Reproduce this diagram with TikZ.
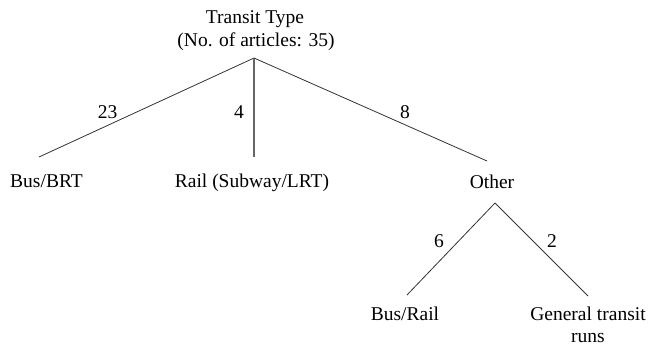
\documentclass[tikz,border=0pt]{standalone}
\usepackage{fontspec}
\setmainfont{Liberation Serif}
\begin{document}
\begin{tikzpicture}[x=1pt,y=-1pt,
  lbl/.style={inner sep=0pt,anchor=base,font=\fontsize{19.5}{26}\selectfont},
  num/.style={inner sep=0pt,anchor=base,font=\fontsize{19.5}{26}\selectfont},
  edge/.style={draw=black!80,line width=0.8pt},
  vedge/.style={draw=black!60,line width=1.1pt}]
\useasboundingbox (0,0) rectangle (650,349);

% root
\node[lbl] (title) at (255,23) {Transit Type};
\node[lbl] (count) at (256,46) {(No. of articles: 35)};
\coordinate (rootb) at (254,58);

% first level
\coordinate (busT) at (39,157);
\coordinate (railT) at (254,157);
\coordinate (otherT) at (487,161);
\node[lbl] (bus) at (46.5,187) {Bus/BRT};
\node[lbl] (rail) at (252,187) {Rail (Subway/LRT)};
\node[lbl] (other) at (492,188) {Other};

\draw[edge] (rootb) -- (busT);
\draw[vedge] (rootb) -- (railT);
\draw[edge] (rootb) -- (otherT);

\node[num] (n23) at (107.5,118) {23};
\node[num] (n4) at (239,118) {4};
\node[num] (n8) at (405,118) {8};

% second level under Other
\coordinate (otherb) at (495,203);
\coordinate (brT) at (407,295);
\coordinate (genT) at (588,296);
\node[lbl] (busrail) at (405,320) {Bus/Rail};
\node[lbl] (gen) at (588,320) {General transit};
\node[lbl] (runs) at (588,342) {runs};

\draw[edge] (otherb) -- (brT);
\draw[edge] (otherb) -- (genT);

\node[num] (n6) at (439,247) {6};
\node[num] (n2) at (552,247) {2};
\end{tikzpicture}
\end{document}
